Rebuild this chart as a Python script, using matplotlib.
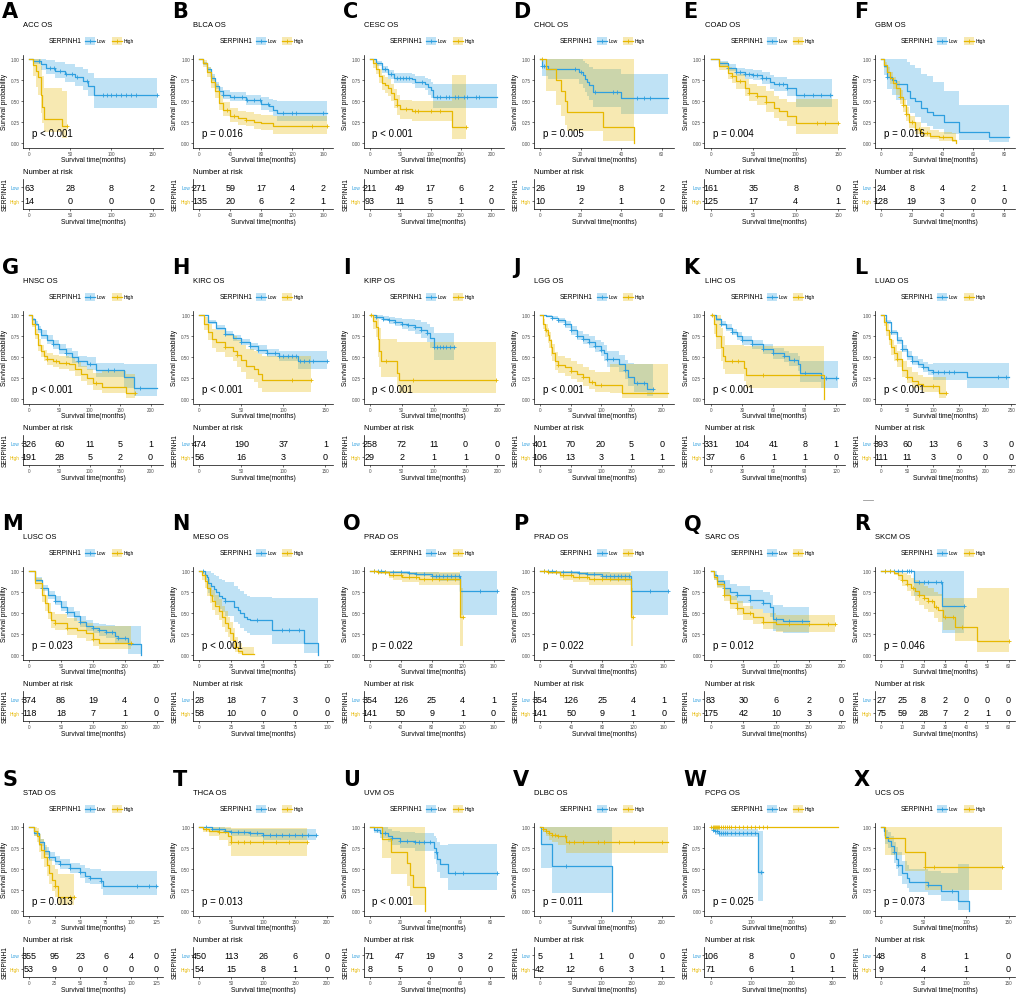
import numpy as np
import matplotlib
matplotlib.use("Agg")
from matplotlib import pyplot as plt
from matplotlib.patches import Rectangle
from matplotlib.lines import Line2D

plt.rcParams["font.family"] = ["Liberation Sans", "DejaVu Sans"]

BLUE = "#2E9FDF"
GOLD = "#E7B800"

# Kaplan-Meier steps: (time, survival, lower CI, upper CI)
# plus censor times and numbers at risk for each cancer type.
acc_low = [(0, 1, 1, 1), (5, 0.98, 0.94, 1), (14, 0.94, 0.87, 1), (20, 0.90, 0.82, 0.99),
           (32, 0.865, 0.78, 0.97), (44, 0.825, 0.73, 0.94), (56, 0.785, 0.68, 0.91),
           (66, 0.745, 0.63, 0.88), (71, 0.685, 0.56, 0.84), (79, 0.57, 0.42, 0.78),
           (155, 0.57, 0.42, 0.78)]
acc_high = [(0, 1, 1, 1), (5, 0.93, 0.80, 1), (9, 0.86, 0.67, 1), (11, 0.79, 0.58, 1),
            (14, 0.57, 0.36, 0.92), (16, 0.43, 0.24, 0.80), (18, 0.29, 0.14, 0.66),
            (40, 0.20, 0.06, 0.62), (46, 0.20, 0.06, 0.62)]
acc_low_cens = [12, 25, 30, 38, 45, 52, 58, 70, 90, 95, 100, 106, 112, 118, 124, 130, 155]
acc_high_cens = [46]
acc_risk_low = [63, 28, 8, 2]
acc_risk_high = [14, 0, 0, 0]

blca_low = [(0, 1, 1, 1), (5, 0.95, 0.93, 0.97), (10, 0.88, 0.85, 0.91), (15, 0.78, 0.74, 0.82),
            (20, 0.68, 0.64, 0.73), (25, 0.62, 0.57, 0.67), (30, 0.58, 0.53, 0.63),
            (40, 0.555, 0.50, 0.61), (60, 0.52, 0.46, 0.58), (80, 0.47, 0.40, 0.55),
            (90, 0.44, 0.37, 0.53), (95, 0.40, 0.32, 0.51), (100, 0.36, 0.26, 0.50),
            (165, 0.36, 0.26, 0.50)]
blca_high = [(0, 1, 1, 1), (5, 0.95, 0.91, 0.99), (10, 0.85, 0.79, 0.91), (15, 0.73, 0.66, 0.80),
             (20, 0.62, 0.54, 0.70), (25, 0.48, 0.40, 0.57), (30, 0.40, 0.32, 0.49),
             (40, 0.33, 0.25, 0.42), (50, 0.30, 0.22, 0.39), (60, 0.28, 0.20, 0.37),
             (70, 0.25, 0.17, 0.35), (80, 0.24, 0.16, 0.34), (95, 0.20, 0.11, 0.33),
             (165, 0.20, 0.11, 0.33)]
blca_low_cens = [30, 45, 55, 62, 70, 78, 88, 108, 120, 125, 160]
blca_high_cens = [35, 45, 60, 145, 165]
blca_risk_low = [271, 59, 17, 4, 2]
blca_risk_high = [135, 20, 6, 2, 1]

cesc_low = [(0, 1, 1, 1), (10, 0.95, 0.92, 0.98), (20, 0.88, 0.84, 0.92), (30, 0.82, 0.77, 0.87),
            (40, 0.78, 0.72, 0.84), (70, 0.765, 0.70, 0.83), (75, 0.73, 0.66, 0.80),
            (90, 0.71, 0.63, 0.78), (95, 0.67, 0.58, 0.76), (100, 0.63, 0.54, 0.73),
            (104, 0.545, 0.42, 0.71), (210, 0.545, 0.42, 0.71)]
cesc_high = [(0, 1, 1, 1), (5, 0.95, 0.90, 1), (10, 0.88, 0.82, 0.95), (15, 0.80, 0.72, 0.88),
             (20, 0.72, 0.63, 0.81), (25, 0.69, 0.60, 0.79), (30, 0.66, 0.56, 0.76),
             (35, 0.60, 0.50, 0.71), (40, 0.53, 0.42, 0.65), (45, 0.45, 0.34, 0.58),
             (50, 0.41, 0.29, 0.52), (70, 0.385, 0.27, 0.50), (136, 0.19, 0.05, 0.81),
             (158, 0.19, 0.05, 0.81)]
cesc_low_cens = [25, 35, 45, 50, 55, 60, 65, 85, 110, 115, 125, 130, 140, 145, 155, 160, 175, 180]
cesc_high_cens = [45, 60, 75, 80, 100, 115, 158]
cesc_risk_low = [211, 49, 17, 6, 2]
cesc_risk_high = [93, 11, 5, 1, 0]

chol_low = [(0, 1, 1, 1), (1, 0.92, 0.80, 1), (4, 0.885, 0.76, 1), (19, 0.85, 0.71, 1),
            (21, 0.81, 0.66, 0.98), (22, 0.77, 0.61, 0.96), (23, 0.73, 0.56, 0.94),
            (24, 0.69, 0.51, 0.91), (26, 0.615, 0.43, 0.88), (40, 0.54, 0.35, 0.82),
            (63, 0.54, 0.35, 0.82)]
chol_high = [(0, 1, 1, 1), (3, 0.88, 0.62, 1), (8, 0.75, 0.45, 1), (10, 0.625, 0.32, 1),
             (12, 0.50, 0.22, 1), (13, 0.375, 0.15, 1), (31, 0.19, 0.03, 1), (46.5, 0, 0, 0)]
chol_low_cens = [1, 2, 17, 20, 27, 36, 38, 48, 51, 54]
chol_high_cens = [1]
chol_risk_low = [26, 19, 8, 2]
chol_risk_high = [10, 2, 1, 0]

coad_low = [(0, 1, 1, 1), (10, 0.95, 0.92, 0.98), (20, 0.90, 0.86, 0.94), (30, 0.85, 0.80, 0.90),
            (40, 0.83, 0.77, 0.88), (50, 0.81, 0.75, 0.87), (60, 0.78, 0.71, 0.85),
            (70, 0.73, 0.65, 0.81), (75, 0.705, 0.62, 0.79), (90, 0.66, 0.56, 0.77),
            (100, 0.57, 0.43, 0.76), (143, 0.57, 0.43, 0.76)]
coad_high = [(0, 1, 1, 1), (10, 0.92, 0.87, 0.97), (20, 0.84, 0.77, 0.91), (25, 0.80, 0.72, 0.88),
             (30, 0.74, 0.65, 0.83), (40, 0.66, 0.56, 0.76), (45, 0.60, 0.50, 0.71),
             (55, 0.56, 0.45, 0.68), (65, 0.49, 0.37, 0.62), (75, 0.42, 0.30, 0.56),
             (80, 0.38, 0.26, 0.53), (90, 0.33, 0.20, 0.49), (100, 0.24, 0.11, 0.53),
             (150, 0.24, 0.11, 0.53)]
coad_low_cens = [20, 30, 35, 40, 45, 50, 55, 60, 65, 80, 85, 90, 110, 120, 130, 140]
coad_high_cens = [25, 35, 45, 55, 65, 125, 135, 150]
coad_risk_low = [161, 35, 8, 0]
coad_risk_high = [125, 17, 4, 1]

gbm_low = [(0, 1, 1, 1), (2, 0.92, 0.81, 1), (4, 0.79, 0.64, 1), (7, 0.75, 0.58, 1),
           (10, 0.70, 0.52, 1), (17, 0.625, 0.44, 0.97), (19, 0.54, 0.36, 0.93),
           (22, 0.50, 0.31, 0.90), (26, 0.42, 0.24, 0.83), (30, 0.375, 0.20, 0.80),
           (34, 0.335, 0.17, 0.73), (41, 0.25, 0.11, 0.62), (51, 0.14, 0.04, 0.45),
           (70, 0.07, 0.01, 0.45), (83, 0.07, 0.01, 0.45)]
gbm_high = [(0, 1, 1, 1), (2, 0.93, 0.89, 0.97), (4, 0.85, 0.79, 0.91), (6, 0.78, 0.71, 0.85),
            (8, 0.72, 0.64, 0.79), (10, 0.66, 0.58, 0.74), (12, 0.55, 0.47, 0.63),
            (14, 0.45, 0.37, 0.53), (16, 0.35, 0.27, 0.43), (18, 0.25, 0.18, 0.33),
            (22, 0.17, 0.11, 0.25), (26, 0.12, 0.07, 0.19), (32, 0.09, 0.05, 0.16),
            (38, 0.07, 0.03, 0.13), (46, 0.035, 0.01, 0.12), (49, 0, 0, 0)]
gbm_low_cens = [4, 6]
gbm_high_cens = [12, 14, 16, 20, 25, 30, 40]
gbm_risk_low = [24, 8, 4, 2, 1]
gbm_risk_high = [128, 19, 3, 0, 0]

hnsc_low = [(0, 1, 1, 1), (5, 0.95, 0.93, 0.97), (10, 0.90, 0.87, 0.93), (15, 0.83, 0.79, 0.87),
            (20, 0.77, 0.72, 0.82), (30, 0.71, 0.66, 0.76), (40, 0.66, 0.60, 0.71),
            (50, 0.60, 0.54, 0.66), (60, 0.55, 0.49, 0.61), (70, 0.50, 0.43, 0.57),
            (80, 0.45, 0.38, 0.52), (95, 0.42, 0.35, 0.50), (110, 0.345, 0.26, 0.43),
            (157, 0.27, 0.14, 0.42), (173, 0.14, 0.04, 0.42), (210, 0.14, 0.04, 0.42)]
hnsc_high = [(0, 1, 1, 1), (5, 0.90, 0.86, 0.94), (10, 0.78, 0.72, 0.84), (15, 0.65, 0.58, 0.72),
             (20, 0.57, 0.50, 0.64), (25, 0.52, 0.45, 0.59), (30, 0.48, 0.41, 0.55),
             (40, 0.46, 0.39, 0.53), (50, 0.43, 0.36, 0.51), (65, 0.42, 0.34, 0.50),
             (75, 0.36, 0.28, 0.45), (85, 0.30, 0.22, 0.40), (95, 0.25, 0.17, 0.36),
             (105, 0.19, 0.11, 0.31), (120, 0.15, 0.07, 0.34), (160, 0.07, 0.02, 0.30),
             (175, 0.07, 0.02, 0.30)]
hnsc_low_cens = [40, 60, 80, 100, 130, 140, 182]
hnsc_high_cens = [30, 45, 60, 110, 175]
hnsc_risk_low = [326, 60, 11, 5, 1]
hnsc_risk_high = [191, 28, 5, 2, 0]

kirc_low = [(0, 1, 1, 1), (10, 0.92, 0.90, 0.94), (20, 0.85, 0.82, 0.88), (30, 0.78, 0.75, 0.81),
            (40, 0.73, 0.69, 0.77), (50, 0.68, 0.64, 0.72), (60, 0.63, 0.59, 0.67),
            (70, 0.59, 0.54, 0.64), (80, 0.55, 0.50, 0.60), (95, 0.52, 0.46, 0.58),
            (118, 0.46, 0.36, 0.57), (152, 0.46, 0.36, 0.57)]
kirc_high = [(0, 1, 1, 1), (5, 0.90, 0.83, 0.98), (10, 0.80, 0.70, 0.90), (15, 0.72, 0.61, 0.84),
             (20, 0.68, 0.56, 0.82), (30, 0.62, 0.50, 0.78), (40, 0.58, 0.45, 0.75),
             (45, 0.53, 0.39, 0.70), (50, 0.47, 0.32, 0.65), (55, 0.40, 0.24, 0.60),
             (65, 0.36, 0.20, 0.57), (70, 0.30, 0.14, 0.54), (75, 0.23, 0.09, 0.51),
             (133, 0.23, 0.09, 0.51)]
kirc_low_cens = [30, 50, 60, 70, 80, 90, 95, 100, 105, 110, 115, 120, 125, 130, 135, 152]
kirc_high_cens = [30, 45, 110, 133]
kirc_risk_low = [474, 190, 37, 1]
kirc_risk_high = [56, 16, 3, 0]

kirp_low = [(0, 1, 1, 1), (10, 0.98, 0.96, 1), (20, 0.96, 0.93, 0.99), (30, 0.94, 0.90, 0.98),
            (40, 0.92, 0.87, 0.97), (50, 0.90, 0.84, 0.96), (60, 0.88, 0.81, 0.95),
            (70, 0.86, 0.78, 0.94), (80, 0.82, 0.73, 0.92), (90, 0.785, 0.68, 0.89),
            (95, 0.73, 0.61, 0.86), (100, 0.62, 0.47, 0.79), (132, 0.62, 0.47, 0.79)]
kirp_high = [(0, 1, 1, 1), (5, 0.93, 0.84, 1), (10, 0.86, 0.74, 1), (12, 0.72, 0.50, 0.95),
             (14, 0.58, 0.38, 0.85), (18, 0.45, 0.27, 0.72), (42, 0.31, 0.15, 0.68),
             (46, 0.225, 0.07, 0.68), (197, 0.225, 0.07, 0.68)]
kirp_low_cens = [10, 20, 30, 40, 50, 60, 70, 80, 90, 100, 105, 110, 115, 120, 125, 132]
kirp_high_cens = [2, 25, 68, 197]
kirp_risk_low = [258, 72, 11, 0, 0]
kirp_risk_high = [29, 2, 1, 1, 0]

lgg_low = [(0, 1, 1, 1), (10, 0.99, 0.98, 1), (20, 0.97, 0.95, 0.99), (30, 0.94, 0.91, 0.97),
           (40, 0.89, 0.85, 0.93), (50, 0.82, 0.77, 0.87), (60, 0.75, 0.70, 0.81),
           (70, 0.72, 0.66, 0.78), (80, 0.68, 0.61, 0.75), (90, 0.63, 0.56, 0.71),
           (100, 0.59, 0.51, 0.68), (105, 0.55, 0.46, 0.64), (110, 0.48, 0.39, 0.58),
           (130, 0.42, 0.32, 0.53), (140, 0.345, 0.24, 0.47), (145, 0.27, 0.16, 0.43),
           (155, 0.195, 0.09, 0.42), (175, 0.12, 0.04, 0.42), (185, 0.12, 0.04, 0.42)]
lgg_high = [(0, 1, 1, 1), (5, 0.90, 0.84, 0.96), (8, 0.82, 0.74, 0.90), (12, 0.76, 0.67, 0.85),
            (15, 0.70, 0.61, 0.80), (18, 0.62, 0.52, 0.72), (20, 0.55, 0.45, 0.66),
            (25, 0.45, 0.35, 0.56), (30, 0.41, 0.31, 0.52), (40, 0.38, 0.28, 0.49),
            (50, 0.34, 0.24, 0.46), (60, 0.30, 0.20, 0.42), (70, 0.26, 0.16, 0.39),
            (80, 0.21, 0.12, 0.35), (90, 0.17, 0.09, 0.32), (115, 0.17, 0.08, 0.42),
            (135, 0.08, 0.015, 0.42), (210, 0.08, 0.015, 0.42)]
lgg_low_cens = [20, 30, 40, 50, 60, 70, 80, 90, 100, 110, 120, 140, 160, 170, 185]
lgg_high_cens = [10, 30, 50, 70, 85, 100]
lgg_risk_low = [401, 70, 20, 5, 0]
lgg_risk_high = [106, 13, 3, 1, 1]

lihc_low = [(0, 1, 1, 1), (5, 0.95, 0.93, 0.97), (10, 0.90, 0.87, 0.93), (15, 0.85, 0.81, 0.89),
            (20, 0.80, 0.76, 0.84), (25, 0.75, 0.70, 0.80), (30, 0.70, 0.65, 0.75),
            (40, 0.66, 0.60, 0.71), (50, 0.60, 0.54, 0.66), (60, 0.55, 0.48, 0.61),
            (70, 0.51, 0.44, 0.58), (75, 0.47, 0.40, 0.55), (84, 0.42, 0.34, 0.52),
            (85, 0.31, 0.21, 0.46), (106, 0.25, 0.14, 0.46), (122, 0.25, 0.14, 0.46)]
lihc_high = [(0, 1, 1, 1), (3, 0.89, 0.78, 1), (5, 0.75, 0.60, 1), (10, 0.62, 0.46, 0.85),
             (12, 0.51, 0.36, 0.75), (14, 0.46, 0.30, 0.64), (32, 0.37, 0.22, 0.63),
             (34, 0.29, 0.14, 0.63), (108, 0, 0, 0)]
lihc_low_cens = [10, 20, 30, 40, 50, 60, 70, 80, 90, 110, 120]
lihc_high_cens = [1, 20, 26, 50]
lihc_risk_low = [331, 104, 41, 8, 1]
lihc_risk_high = [37, 6, 1, 1, 0]

luad_low = [(0, 1, 1, 1), (10, 0.92, 0.90, 0.94), (20, 0.80, 0.77, 0.83), (30, 0.70, 0.66, 0.74),
            (40, 0.60, 0.56, 0.64), (50, 0.52, 0.47, 0.57), (60, 0.46, 0.41, 0.51),
            (70, 0.42, 0.37, 0.48), (80, 0.38, 0.32, 0.44), (90, 0.35, 0.29, 0.42),
            (100, 0.32, 0.23, 0.43), (165, 0.26, 0.14, 0.43), (245, 0.26, 0.14, 0.43)]
luad_high = [(0, 1, 1, 1), (5, 0.92, 0.87, 0.97), (10, 0.82, 0.75, 0.89), (15, 0.72, 0.64, 0.80),
             (20, 0.62, 0.53, 0.71), (25, 0.55, 0.46, 0.65), (30, 0.48, 0.39, 0.58),
             (40, 0.35, 0.26, 0.46), (50, 0.27, 0.19, 0.38), (60, 0.22, 0.14, 0.33),
             (70, 0.18, 0.11, 0.29), (80, 0.16, 0.09, 0.27), (112, 0.08, 0.02, 0.27),
             (125, 0.08, 0.02, 0.27)]
luad_low_cens = [20, 40, 60, 80, 100, 110, 120, 130, 140, 225, 240]
luad_high_cens = [30, 50, 70, 100, 125]
luad_risk_low = [393, 60, 13, 6, 3, 0]
luad_risk_high = [111, 11, 3, 0, 0, 0]

lusc_low = [(0, 1, 1, 1), (10, 0.90, 0.87, 0.93), (20, 0.80, 0.76, 0.84), (30, 0.72, 0.67, 0.77),
            (40, 0.65, 0.60, 0.70), (50, 0.58, 0.53, 0.64), (60, 0.52, 0.46, 0.58),
            (70, 0.47, 0.41, 0.53), (80, 0.40, 0.34, 0.47), (90, 0.35, 0.29, 0.42),
            (100, 0.32, 0.26, 0.39), (110, 0.30, 0.23, 0.37), (120, 0.28, 0.21, 0.36),
            (135, 0.23, 0.15, 0.35), (140, 0.21, 0.13, 0.35), (155, 0.14, 0.02, 0.35),
            (176, 0, 0, 0)]
lusc_high = [(0, 1, 1, 1), (10, 0.86, 0.79, 0.92), (20, 0.72, 0.63, 0.80), (25, 0.62, 0.53, 0.72),
             (30, 0.52, 0.43, 0.62), (35, 0.42, 0.33, 0.52), (40, 0.385, 0.30, 0.49),
             (60, 0.33, 0.24, 0.44), (75, 0.30, 0.21, 0.41), (90, 0.26, 0.17, 0.38),
             (100, 0.19, 0.11, 0.35), (110, 0.15, 0.08, 0.35), (160, 0.15, 0.08, 0.35)]
lusc_low_cens = [20, 40, 60, 80, 100, 110, 120, 130, 140, 150]
lusc_high_cens = [40, 60, 100, 160]
lusc_risk_low = [374, 86, 19, 4, 0]
lusc_risk_high = [118, 18, 7, 1, 0]

meso_low = [(0, 1, 1, 1), (4, 0.96, 0.89, 1), (6, 0.93, 0.84, 1), (7, 0.86, 0.74, 1),
            (9, 0.82, 0.69, 0.98), (11, 0.79, 0.65, 0.96), (13, 0.75, 0.60, 0.94),
            (15, 0.71, 0.55, 0.91), (18, 0.68, 0.51, 0.89), (20, 0.64, 0.47, 0.87),
            (27, 0.57, 0.40, 0.82), (30, 0.54, 0.37, 0.79), (32, 0.50, 0.33, 0.76),
            (35, 0.46, 0.29, 0.73), (37, 0.43, 0.26, 0.70), (40, 0.415, 0.24, 0.69),
            (57, 0.30, 0.13, 0.68), (82, 0.15, 0.03, 0.68), (93, 0, 0, 0)]
meso_high = [(0, 1, 1, 1), (2, 0.95, 0.89, 1), (4, 0.88, 0.80, 0.97), (6, 0.80, 0.71, 0.91),
             (8, 0.72, 0.62, 0.84), (10, 0.65, 0.54, 0.78), (12, 0.59, 0.48, 0.72),
             (15, 0.53, 0.42, 0.67), (18, 0.45, 0.34, 0.59), (20, 0.39, 0.28, 0.53),
             (22, 0.32, 0.22, 0.46), (24, 0.26, 0.17, 0.40), (26, 0.18, 0.10, 0.32),
             (28, 0.10, 0.04, 0.22), (30, 0.05, 0.01, 0.15), (33, 0.02, 0, 0.10),
             (43, 0.02, 0, 0.10)]
meso_low_cens = [3, 20, 45, 65, 70, 78]
meso_high_cens = [28]
meso_risk_low = [28, 18, 7, 3, 0]
meso_risk_high = [58, 10, 0, 0, 0]

prad_low = [(0, 1, 1, 1), (20, 0.995, 0.985, 1), (40, 0.985, 0.97, 1), (50, 0.975, 0.955, 0.995),
            (60, 0.965, 0.94, 0.99), (80, 0.945, 0.90, 0.985), (90, 0.94, 0.88, 0.98),
            (117, 0.76, 0.48, 1), (165, 0.76, 0.48, 1)]
prad_high = [(0, 1, 1, 1), (10, 0.99, 0.97, 1), (25, 0.96, 0.92, 1), (30, 0.95, 0.90, 1),
             (42, 0.93, 0.87, 0.99), (63, 0.91, 0.84, 0.99), (117, 0.455, 0.11, 0.80),
             (120, 0.455, 0.11, 0.80)]
prad_low_cens = [5, 10, 15, 20, 30, 40, 50, 60, 70, 80, 85, 90, 95, 100, 105, 110, 115, 142, 165]
prad_high_cens = [5, 10, 20, 30, 40, 50, 60, 70, 80, 90, 100, 110, 120]
prad_risk_low = [354, 126, 25, 4, 1]
prad_risk_high = [141, 50, 9, 1, 0]

sarc_low = [(0, 1, 1, 1), (5, 0.95, 0.90, 1), (10, 0.88, 0.81, 0.95), (20, 0.80, 0.71, 0.89),
            (30, 0.75, 0.66, 0.85), (40, 0.72, 0.62, 0.82), (60, 0.66, 0.55, 0.78),
            (80, 0.62, 0.50, 0.75), (90, 0.58, 0.45, 0.72), (95, 0.43, 0.29, 0.60),
            (110, 0.41, 0.27, 0.58), (150, 0.41, 0.27, 0.58)]
sarc_high = [(0, 1, 1, 1), (5, 0.93, 0.89, 0.97), (10, 0.85, 0.80, 0.90), (20, 0.72, 0.65, 0.79),
             (30, 0.62, 0.55, 0.70), (40, 0.56, 0.48, 0.64), (50, 0.50, 0.42, 0.59),
             (65, 0.45, 0.37, 0.55), (80, 0.40, 0.31, 0.50), (100, 0.37, 0.28, 0.48),
             (190, 0.37, 0.28, 0.48)]
sarc_low_cens = [20, 40, 60, 80, 100, 120, 140]
sarc_high_cens = [20, 40, 60, 80, 120, 150, 180, 190]
sarc_risk_low = [83, 30, 6, 2, 0]
sarc_risk_high = [175, 42, 10, 3, 0]

skcm_low = [(0, 1, 1, 1), (15.5, 0.875, 0.71, 1), (28.5, 0.585, 0.26, 1), (39, 0.585, 0.26, 1)]
skcm_high = [(0, 1, 1, 1), (6, 0.98, 0.95, 1), (8, 0.95, 0.90, 1), (10, 0.90, 0.83, 0.98),
             (12, 0.85, 0.76, 0.95), (14, 0.80, 0.70, 0.92), (16, 0.76, 0.65, 0.89),
             (18, 0.72, 0.60, 0.86), (20, 0.68, 0.55, 0.83), (22, 0.64, 0.51, 0.80),
             (25, 0.58, 0.44, 0.75), (27, 0.54, 0.40, 0.73), (29, 0.455, 0.30, 0.68),
             (35, 0.34, 0.17, 0.68), (45, 0.17, 0.04, 0.80), (60, 0.17, 0.04, 0.80)]
skcm_low_cens = [2, 4, 6, 8, 10, 12, 13, 14, 18, 20, 22, 26, 28, 39]
skcm_high_cens = [2, 4, 10, 12, 15, 18, 20, 22, 24, 26, 30, 34, 38, 60]
skcm_risk_low = [27, 25, 8, 2, 0, 0, 0]
skcm_risk_high = [75, 59, 28, 7, 2, 1, 0]

stad_low = [(0, 1, 1, 1), (5, 0.93, 0.90, 0.96), (10, 0.82, 0.78, 0.86), (15, 0.72, 0.67, 0.77),
            (20, 0.65, 0.60, 0.70), (25, 0.60, 0.55, 0.66), (30, 0.56, 0.50, 0.62),
            (40, 0.51, 0.45, 0.58), (50, 0.47, 0.40, 0.55), (55, 0.42, 0.34, 0.51),
            (60, 0.40, 0.32, 0.50), (70, 0.36, 0.27, 0.48), (72, 0.30, 0.19, 0.48),
            (125, 0.30, 0.19, 0.48)]
stad_high = [(0, 1, 1, 1), (5, 0.95, 0.89, 1), (8, 0.90, 0.82, 0.99), (10, 0.80, 0.70, 0.92),
             (12, 0.73, 0.62, 0.86), (15, 0.65, 0.53, 0.79), (18, 0.55, 0.42, 0.70),
             (20, 0.45, 0.32, 0.62), (22, 0.37, 0.24, 0.55), (25, 0.30, 0.17, 0.50),
             (28, 0.17, 0.07, 0.44), (44, 0.17, 0.07, 0.44)]
stad_low_cens = [20, 30, 40, 50, 60, 70, 106, 118, 124]
stad_high_cens = [25, 40, 44]
stad_risk_low = [355, 95, 23, 6, 4, 0]
stad_risk_high = [53, 9, 0, 0, 0, 0]

thca_low = [(0, 1, 1, 1), (20, 0.98, 0.96, 1), (40, 0.96, 0.93, 0.99), (50, 0.94, 0.90, 0.98),
            (80, 0.93, 0.88, 0.98), (100, 0.91, 0.85, 0.98), (182, 0.91, 0.85, 0.98)]
thca_high = [(0, 1, 1, 1), (5, 0.98, 0.94, 1), (15, 0.96, 0.89, 1), (30, 0.94, 0.85, 1),
             (45, 0.90, 0.78, 1), (50, 0.82, 0.66, 0.99), (168, 0.82, 0.66, 0.99)]
thca_low_cens = [10, 20, 30, 40, 50, 60, 70, 80, 90, 100, 110, 120, 130, 140, 150, 160, 170, 182]
thca_high_cens = [10, 30, 50, 60, 70, 80, 100, 120, 140, 168]
thca_risk_low = [450, 113, 26, 6, 0]
thca_risk_high = [54, 15, 8, 1, 0]

uvm_low = [(0, 1, 1, 1), (3, 0.97, 0.93, 1), (7, 0.93, 0.87, 1), (12, 0.90, 0.83, 0.98),
           (15, 0.87, 0.79, 0.96), (20, 0.84, 0.75, 0.94), (30, 0.82, 0.72, 0.93),
           (43, 0.75, 0.62, 0.90), (44, 0.70, 0.56, 0.87), (45, 0.62, 0.47, 0.82),
           (47, 0.56, 0.40, 0.79), (52, 0.45, 0.25, 0.80), (85, 0.45, 0.25, 0.80)]
uvm_high = [(0, 1, 1, 1), (8, 0.857, 0.63, 1), (14, 0.71, 0.44, 1), (25, 0.57, 0.30, 1),
            (27, 0.43, 0.18, 1), (29, 0.285, 0.08, 1), (37, 0, 0, 0)]
uvm_low_cens = [5, 10, 15, 20, 25, 30, 33, 36, 40, 44, 57, 62, 85]
uvm_high_cens = []
uvm_risk_low = [71, 47, 19, 3, 2]
uvm_risk_high = [8, 5, 0, 0, 0]

dlbc_low = [(0, 1, 1, 1), (2, 0.80, 0.52, 1), (20, 0.535, 0.22, 1), (118, 0, 0, 0)]
dlbc_high = [(0, 1, 1, 1), (5, 0.98, 0.94, 1), (10, 0.95, 0.89, 1), (15, 0.93, 0.85, 1),
             (20, 0.91, 0.82, 1), (30, 0.89, 0.79, 1), (42, 0.83, 0.69, 1), (210, 0.83, 0.69, 1)]
dlbc_low_cens = [43]
dlbc_high_cens = [5, 10, 15, 20, 25, 30, 40, 48, 55, 70, 95, 105, 130, 155, 200]
dlbc_risk_low = [5, 1, 1, 0, 0]
dlbc_risk_high = [42, 12, 6, 3, 1]

pcpg_low = [(0, 1, 1, 1), (5, 0.97, 0.94, 1), (10, 0.95, 0.91, 0.99), (20, 0.93, 0.88, 0.98),
            (118, 0.47, 0.12, 0.95), (130, 0.47, 0.12, 0.95)]
pcpg_high = [(0, 1, 1, 1), (315, 1, 1, 1)]
pcpg_low_cens = [5, 10, 15, 20, 25, 30, 35, 40, 50, 60, 70, 80, 90, 100, 110, 125]
pcpg_high_cens = [2, 5, 8, 10, 12, 15, 18, 20, 25, 30, 35, 40, 45, 50, 60, 70, 80, 90,
                  100, 110, 120, 130, 140]
pcpg_risk_low = [106, 8, 0, 0]
pcpg_risk_high = [71, 6, 1, 1]

ucs_low = [(0, 1, 1, 1), (3, 0.96, 0.90, 1), (5, 0.88, 0.80, 0.97), (8, 0.84, 0.75, 0.94),
           (12, 0.78, 0.67, 0.90), (15, 0.70, 0.58, 0.83), (18, 0.62, 0.50, 0.76),
           (20, 0.55, 0.42, 0.70), (25, 0.45, 0.33, 0.60), (30, 0.40, 0.28, 0.55),
           (33, 0.35, 0.23, 0.50), (55, 0.31, 0.19, 0.48), (70, 0.24, 0.12, 0.45),
           (90, 0.12, 0.02, 0.56), (103, 0, 0, 0)]
ucs_high = [(0, 1, 1, 1), (5, 0.875, 0.67, 1), (28, 0.70, 0.48, 1), (52, 0.525, 0.25, 1),
            (142, 0.525, 0.25, 1)]
ucs_low_cens = [15, 20, 55, 83]
ucs_high_cens = [52, 62, 142]
ucs_risk_low = [48, 8, 1, 0]
ucs_risk_high = [9, 4, 1, 0]

letters = list("ABCDEFGHIJKLMNOPQRSTUVWX")
titles = ["ACC OS", "BLCA OS", "CESC OS", "CHOL OS", "COAD OS", "GBM OS",
          "HNSC OS", "KIRC OS", "KIRP OS", "LGG OS", "LIHC OS", "LUAD OS",
          "LUSC OS", "MESO OS", "PRAD OS", "PRAD OS", "SARC OS", "SKCM OS",
          "STAD OS", "THCA OS", "UVM OS", "DLBC OS", "PCPG OS", "UCS OS"]
pvals = ["p < 0.001", "p = 0.016", "p < 0.001", "p = 0.005", "p = 0.004", "p = 0.016",
         "p < 0.001", "p < 0.001", "p < 0.001", "p < 0.001", "p < 0.001", "p < 0.001",
         "p = 0.023", "p < 0.001", "p = 0.022", "p = 0.022", "p = 0.012", "p = 0.046",
         "p = 0.013", "p = 0.013", "p < 0.001", "p = 0.011", "p = 0.025", "p = 0.073"]
max_time = [155, 165, 210, 63, 150, 83, 210, 152, 200, 210, 122, 245,
            200, 100, 165, 165, 195, 60, 125, 200, 85, 210, 315, 150]
break_by = [50, 40, 50, 20, 50, 20, 50, 50, 50, 50, 30, 50,
            50, 25, 40, 40, 50, 10, 25, 50, 20, 50, 100, 50]

curves = [
    (acc_low, acc_high, acc_low_cens, acc_high_cens, acc_risk_low, acc_risk_high),
    (blca_low, blca_high, blca_low_cens, blca_high_cens, blca_risk_low, blca_risk_high),
    (cesc_low, cesc_high, cesc_low_cens, cesc_high_cens, cesc_risk_low, cesc_risk_high),
    (chol_low, chol_high, chol_low_cens, chol_high_cens, chol_risk_low, chol_risk_high),
    (coad_low, coad_high, coad_low_cens, coad_high_cens, coad_risk_low, coad_risk_high),
    (gbm_low, gbm_high, gbm_low_cens, gbm_high_cens, gbm_risk_low, gbm_risk_high),
    (hnsc_low, hnsc_high, hnsc_low_cens, hnsc_high_cens, hnsc_risk_low, hnsc_risk_high),
    (kirc_low, kirc_high, kirc_low_cens, kirc_high_cens, kirc_risk_low, kirc_risk_high),
    (kirp_low, kirp_high, kirp_low_cens, kirp_high_cens, kirp_risk_low, kirp_risk_high),
    (lgg_low, lgg_high, lgg_low_cens, lgg_high_cens, lgg_risk_low, lgg_risk_high),
    (lihc_low, lihc_high, lihc_low_cens, lihc_high_cens, lihc_risk_low, lihc_risk_high),
    (luad_low, luad_high, luad_low_cens, luad_high_cens, luad_risk_low, luad_risk_high),
    (lusc_low, lusc_high, lusc_low_cens, lusc_high_cens, lusc_risk_low, lusc_risk_high),
    (meso_low, meso_high, meso_low_cens, meso_high_cens, meso_risk_low, meso_risk_high),
    (prad_low, prad_high, prad_low_cens, prad_high_cens, prad_risk_low, prad_risk_high),
    (prad_low, prad_high, prad_low_cens, prad_high_cens, prad_risk_low, prad_risk_high),
    (sarc_low, sarc_high, sarc_low_cens, sarc_high_cens, sarc_risk_low, sarc_risk_high),
    (skcm_low, skcm_high, skcm_low_cens, skcm_high_cens, skcm_risk_low, skcm_risk_high),
    (stad_low, stad_high, stad_low_cens, stad_high_cens, stad_risk_low, stad_risk_high),
    (thca_low, thca_high, thca_low_cens, thca_high_cens, thca_risk_low, thca_risk_high),
    (uvm_low, uvm_high, uvm_low_cens, uvm_high_cens, uvm_risk_low, uvm_risk_high),
    (dlbc_low, dlbc_high, dlbc_low_cens, dlbc_high_cens, dlbc_risk_low, dlbc_risk_high),
    (pcpg_low, pcpg_high, pcpg_low_cens, pcpg_high_cens, pcpg_risk_low, pcpg_risk_high),
    (ucs_low, ucs_high, ucs_low_cens, ucs_high_cens, ucs_risk_low, ucs_risk_high),
]

W, H = 1017, 995
fig = plt.figure(figsize=(W / 100, H / 100), dpi=100)


def px_axes(x0, y0, x1, y1):
    return fig.add_axes([x0 / W, 1 - y1 / H, (x1 - x0) / W, (y1 - y0) / H])


def ftext(x, y, s, **kw):
    fig.text(x / W, 1 - y / H, s, **kw)


def draw_curve(ax, pts, cens, color):
    t = np.array([p[0] for p in pts], dtype=float)
    s = np.array([p[1] for p in pts], dtype=float)
    lo = np.array([p[2] for p in pts], dtype=float)
    hi = np.array([p[3] for p in pts], dtype=float)
    ax.fill_between(t, lo, hi, step="post", color=color, alpha=0.3, lw=0)
    ax.step(t, s, where="post", color=color, lw=0.9)
    if cens:
        c = np.array(cens, dtype=float)
        idx = np.searchsorted(t, c, side="right") - 1
        ax.plot(c, s[idx], ls="none", marker="+", color=color, ms=3, mew=0.6)


def style(ax, m, ticks):
    ax.set_xlim(-0.05 * m, 1.05 * m)
    for side in ("top", "right"):
        ax.spines[side].set_visible(False)
    for side in ("left", "bottom"):
        ax.spines[side].set_linewidth(0.5)
    ax.set_xticks(ticks)
    ax.set_xticklabels([f"{v:g}" for v in ticks])
    ax.tick_params(length=1.6, width=0.4, labelsize=3.3, pad=0.6, labelcolor="#4d4d4d")
    ax.patch.set_alpha(0)


def legend_key(x0, y0, color):
    fig.add_artist(Rectangle((x0 / W, 1 - (y0 + 8) / H), 10 / W, 8 / H,
                             transform=fig.transFigure, facecolor=color, alpha=0.3, lw=0))
    ym = 1 - (y0 + 4) / H
    fig.add_artist(Line2D([x0 / W, (x0 + 10) / W], [ym, ym], transform=fig.transFigure,
                          color=color, lw=0.9))
    fig.add_artist(Line2D([(x0 + 5) / W], [ym], transform=fig.transFigure, color=color,
                          marker="+", ms=3, mew=0.6))


for i in range(24):
    low, high, lc, hc, rl, rh = curves[i]
    m = max_time[i]
    ticks = [break_by[i] * k for k in range(len(rl))]
    ox = (i % 6) * 170.4
    oy = (i // 6) * 256

    ftext(ox + 2, oy + 18.5, letters[i], fontsize=15, fontweight="bold",
          family="DejaVu Sans", va="baseline")
    ftext(ox + 23, oy + 25.5, titles[i], fontsize=5.5, va="center")

    # legend
    ftext(ox + 49, oy + 41.7, "SERPINH1", fontsize=4.8, va="center")
    legend_key(ox + 85.3, oy + 37.7, BLUE)
    ftext(ox + 97, oy + 41.7, "Low", fontsize=3.6, va="center")
    legend_key(ox + 111.7, oy + 37.7, GOLD)
    ftext(ox + 123.5, oy + 41.7, "High", fontsize=3.6, va="center")

    # survival curves
    ax = px_axes(ox + 22.7, oy + 56, ox + 163, oy + 148.5)
    draw_curve(ax, low, lc, BLUE)
    draw_curve(ax, high, hc, GOLD)
    ax.set_ylim(-0.05, 1.05)
    ax.set_yticks([0, 0.25, 0.5, 0.75, 1])
    ax.set_yticklabels(["0.00", "0.25", "0.50", "0.75", "1.00"])
    style(ax, m, ticks)
    ax.text(m / 50, 0.12, pvals[i], fontsize=7, va="center", ha="left")
    ftext(ox + 4.5, oy + 102, "Survival probability", rotation=90, fontsize=4.8,
          va="center", ha="center")
    ftext(ox + 93, oy + 160.5, "Survival time(months)", fontsize=4.8, va="center", ha="center")

    # risk table
    ftext(ox + 23, oy + 172.7, "Number at risk", fontsize=5.5, va="center")
    rax = px_axes(ox + 22.7, oy + 180.3, ox + 163, oy + 209.7)
    rax.set_ylim(0.4, 2.6)
    for t, a, b in zip(ticks, rl, rh):
        rax.text(t, 2, str(a), fontsize=6.5, ha="center", va="center")
        rax.text(t, 1, str(b), fontsize=6.5, ha="center", va="center")
    rax.set_yticks([1, 2])
    rax.set_yticklabels(["High", "Low"])
    style(rax, m, ticks)
    rax.tick_params(axis="y", labelsize=3.4)
    ylabs = rax.get_yticklabels()
    ylabs[0].set_color(GOLD)
    ylabs[1].set_color(BLUE)
    ftext(ox + 5, oy + 195, "SERPINH1", rotation=90, fontsize=4.8, va="center", ha="center")
    ftext(ox + 93, oy + 222.5, "Survival time(months)", fontsize=4.8, va="center", ha="center")

# small stray dash above panel R in the original figure
fig.add_artist(Line2D([863 / W, 873 / W], [1 - 501 / H, 1 - 501 / H],
                      transform=fig.transFigure, color="#999999", lw=0.6))

fig.savefig("out.png", dpi=100)
